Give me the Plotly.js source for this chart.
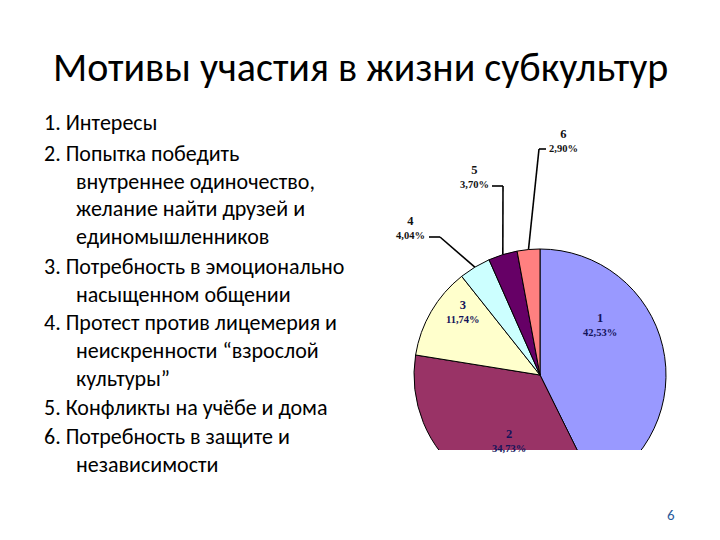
<!DOCTYPE html>
<html><head><meta charset="utf-8">
<script src="https://cdn.plot.ly/plotly-3.0.1.min.js"></script>
<style>html,body{margin:0;padding:0;background:#fff}#chart{width:720px;height:540px}</style>
</head><body><div id="chart"></div>
<script>
// ---- data ----
const sliceLabels = ['1', '2', '3', '4', '5', '6'];
const sliceValues = [42.53, 34.73, 11.74, 4.04, 3.70, 2.90];
const sliceColors = ['#9999FF', '#993366', '#FFFFCC', '#CCFFFF', '#660066', '#FF8080'];
const titleText = 'Мотивы участия в жизни субкультур';
const listLines = [
  '1. Интересы',
  '2. Попытка победить',
  '    внутреннее одиночество,',
  '    желание найти друзей и',
  '    единомышленников',
  '3. Потребность в эмоционально',
  '    насыщенном общении',
  '4. Протест против лицемерия и',
  '    неискренности “взрослой',
  '    культуры”',
  '5. Конфликты на учёбе и дома',
  '6. Потребность в защите и',
  '    независимости'
];
const pageNumber = '6';

// ---- layout constants (positions only) ----
const W = 720, H = 540;
const CX = 540, CY = 375, R = 126;
const listY = [123, 153, 181, 208, 236, 266, 294, 322, 350, 378, 407, 436, 464];
// label block centres (pixels) for each slice
const labelPos = [[600, 324], [509, 440], [463, 311], [410, 227], [474, 176], [563, 141]];
// leader-line knee and end points for the small slices
const leader = { 3: [[440, 237], [429, 237]], 4: [[503, 186], [492, 186]], 5: [[539, 149], [546, 149]] };
const sans = 'Carlito, Calibri, "Open Sans", "Noto Sans", sans-serif';
const serif = '"Liberation Serif", "DejaVu Serif", serif';

const pctText = sliceValues.map(v => v.toFixed(2).replace('.', ',') + '%');
const total = sliceValues.reduce((a, b) => a + b, 0);
const px2x = p => p / W, px2y = p => 1 - p / H;

const trace = {
  type: 'pie',
  labels: sliceLabels,
  values: sliceValues,
  sort: false,
  direction: 'clockwise',
  rotation: 0,
  marker: { colors: sliceColors, line: { color: '#000', width: 1 } },
  textinfo: 'none',
  domain: { x: [px2x(CX - R), px2x(CX + R)], y: [px2y(CY + R), px2y(CY - R)] },
  hoverinfo: 'none',
  showlegend: false
};

const annotations = [];
const shapes = [];
annotations.push({
  xref: 'paper', yref: 'paper', x: 0.5, y: px2y(68), xanchor: 'center', yanchor: 'middle',
  text: titleText, showarrow: false, font: { family: sans, size: 40, color: '#000' }
});
listLines.forEach((t, i) => {
  const indent = t.startsWith('    ');
  annotations.push({
    xref: 'paper', yref: 'paper', x: px2x(indent ? 74 : 42), y: px2y(listY[i]),
    xanchor: 'left', yanchor: 'middle', text: t.trim(), showarrow: false,
    font: { family: sans, size: 22, color: '#000' }
  });
});

// clip the lower part of the pie (as in the reference)
shapes.push({
  type: 'rect', xref: 'paper', yref: 'paper', layer: 'above',
  x0: px2x(395), x1: px2x(690), y0: 0, y1: px2y(450),
  fillcolor: '#fff', line: { width: 0 }
});

let cum = 0;
sliceValues.forEach((v, i) => {
  const mid = (cum + v / 2) / total;
  cum += v;
  const [lx, ly] = labelPos[i];
  const small = !!leader[i];
  annotations.push({
    xref: 'paper', yref: 'paper', x: px2x(lx), y: px2y(ly), xanchor: 'center', yanchor: 'middle',
    showarrow: false, align: 'center',
    text: '<b><span style="font-size:12.5px">' + sliceLabels[i] + '</span></b><br><b>' + pctText[i] + '</b>',
    font: { family: serif, size: 10.5, color: small ? '#111' : '#14145a' }
  });
  if (small) {
    const th = 2 * Math.PI * mid;
    const ex = CX + R * Math.sin(th), ey = CY - R * Math.cos(th);
    const [[kx, ky], [tx, ty]] = leader[i];
    const ln = { color: '#000', width: 1.6 };
    shapes.push({ type: 'line', xref: 'paper', yref: 'paper', layer: 'above',
      x0: px2x(ex), y0: px2y(ey), x1: px2x(kx), y1: px2y(ky), line: ln });
    shapes.push({ type: 'line', xref: 'paper', yref: 'paper', layer: 'above',
      x0: px2x(kx), y0: px2y(ky), x1: px2x(tx), y1: px2y(ty), line: ln });
  }
});

annotations.push({
  xref: 'paper', yref: 'paper', x: px2x(671), y: px2y(515), xanchor: 'center', yanchor: 'middle',
  text: pageNumber, showarrow: false, font: { family: sans, size: 15, color: '#2a5a9a' }
});

const layout = {
  width: W, height: H,
  margin: { l: 0, r: 0, t: 0, b: 0 },
  paper_bgcolor: '#fff',
  annotations, shapes
};
Plotly.newPlot('chart', [trace], layout, { staticPlot: true });
</script></body></html>
